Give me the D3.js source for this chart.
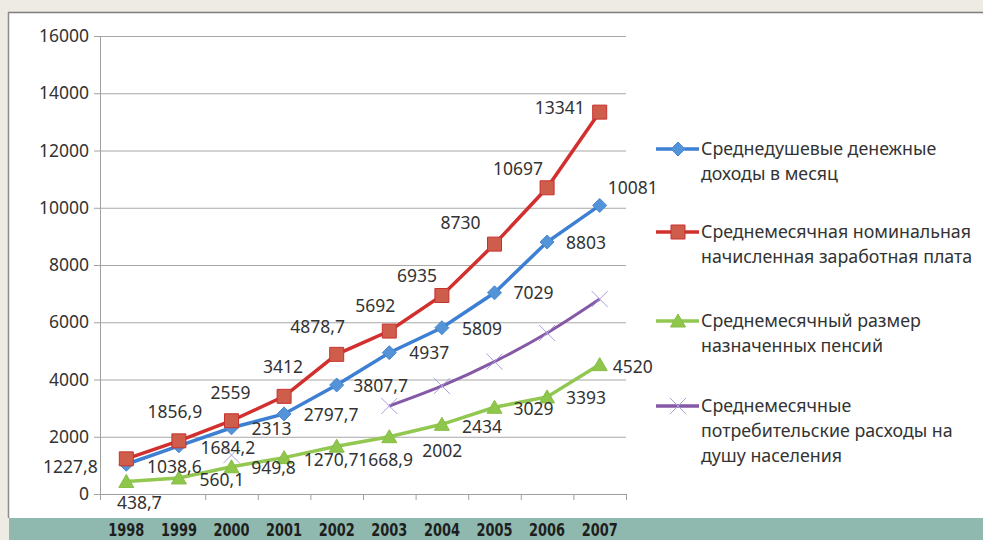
<!DOCTYPE html>
<html>
<head>
<meta charset="utf-8">
<script src="https://cdn.jsdelivr.net/npm/d3@7"></script>
<style>
  body { margin: 0; background: #eeeae4; }
  svg { display: block; }
</style>
</head>
<body>
<div id="container"></div>
<script>
// Chart data
var years = ["1998", "1999", "2000", "2001", "2002", "2003", "2004", "2005", "2006", "2007"];
var income = [1038.6, 1684.2, 2313, 2797.7, 3807.7, 4937, 5809, 7029, 8803, 10081];
var salary = [1227.8, 1856.9, 2559, 3412, 4878.7, 5692, 6935, 8730, 10697, 13341];
var pension = [438.7, 560.1, 949.8, 1270.7, 1668.9, 2002, 2434, 3029, 3393, 4520];
var spending = [null, null, 1360, null, null, 3075, 3775, 4625, 5625, 6810];
var yTicks = [0, 2000, 4000, 6000, 8000, 10000, 12000, 14000, 16000];

var legendIncome = ["Среднедушевые денежные", "доходы в месяц"];
var legendSalary = ["Среднемесячная номинальная", "начисленная заработная плата"];
var legendPension = ["Среднемесячный размер", "назначенных пенсий"];
var legendSpending = ["Среднемесячные", "потребительские расходы на", "душу населения"];

// Label placement (offset of label centre from its point)
var salaryLabelPos = [[-56, 8], [-4, -29], [-1, -28], [-1, -29], [-19, -27], [-14, -25], [-25, -20], [-34, -21], [-29, -19], [-40, -4]];
var incomeLabelPos = [[48, 3], [49, 2], [40, 1], [47, 1], [44, 1], [40, 0], [40, 1], [39, 0], [39, 1], [33, -18]];
var pensionLabelPos = [[13, 21], [43, 2], [42, 1], [47, 2], [49, 14], [53, 14], [40, 3], [39, 2], [39, 1], [33, 2]];

var width = 983;
var height = 540;
var font = "'Noto Sans', 'Open Sans', sans-serif";

var svg = d3.select("#container")
  .append("svg")
  .attr("width", width)
  .attr("height", height);

// background panel
svg.append("rect").attr("x", 0).attr("y", 0).attr("width", width).attr("height", height).attr("fill", "#eeeae4");
svg.append("rect").attr("x", 8).attr("y", 13).attr("width", width - 8).attr("height", 505).attr("fill", "#ffffff");
svg.append("line").attr("x1", 8).attr("x2", width).attr("y1", 12.5).attr("y2", 12.5).attr("stroke", "#7d7d7d").attr("stroke-width", 1.5);
svg.append("line").attr("x1", 8.5).attr("x2", 8.5).attr("y1", 12).attr("y2", 518).attr("stroke", "#8c8c8c").attr("stroke-width", 1.5);
svg.append("rect").attr("x", 9).attr("y", 518).attr("width", width - 9).attr("height", 22).attr("fill", "#8fb9ae");

// scales
var x = d3.scaleBand().domain(years).range([100, 626]);
var xEdge = d3.scaleLinear().domain([0, years.length]).range([100, 626]);
var y = d3.scaleLinear().domain([0, 16000]).range([494, 36]);
function cx(i) { return x(years[i]) + x.bandwidth() / 2; }

// grid lines
svg.append("g")
  .attr("transform", "translate(100,0)")
  .call(d3.axisLeft(y).tickValues(yTicks).tickSize(-526).tickFormat(""))
  .call(function(g) {
    g.select(".domain").remove();
    g.selectAll("line").attr("stroke", "#a8a8a8");
  });

// y axis
svg.append("g")
  .attr("transform", "translate(100,0)")
  .call(d3.axisLeft(y).tickValues(yTicks).tickSize(6).tickPadding(5).tickFormat(d3.format("d")))
  .call(function(g) {
    g.select(".domain").attr("stroke", "#a0a0a0");
    g.selectAll("line").attr("stroke", "#a0a0a0");
    g.selectAll("text").attr("font-family", font).attr("font-size", 17.5).attr("fill", "#333");
  });

// x axis (ticks at category edges)
svg.append("g")
  .attr("transform", "translate(0,494)")
  .call(d3.axisBottom(xEdge).tickValues(d3.range(years.length + 1)).tickSize(6).tickFormat(""))
  .call(function(g) {
    g.select(".domain").attr("stroke", "#a0a0a0");
    g.selectAll("line").attr("stroke", "#a0a0a0");
  });

// year labels in the band (condensed bold)
svg.append("g").selectAll("text")
  .data(years)
  .enter()
  .append("text")
  .attr("x", function(d, i) { return cx(i) - 18; })
  .attr("y", 535.5)
  .attr("textLength", 36)
  .attr("lengthAdjust", "spacingAndGlyphs")
  .attr("font-family", "'DejaVu Sans', 'Liberation Sans', sans-serif")
  .attr("font-weight", "bold")
  .attr("font-size", 18)
  .attr("fill", "#1e1e1e")
  .text(function(d) { return d; });

// lines
var line = d3.line()
  .defined(function(d) { return d != null; })
  .x(function(d, i) { return cx(i); })
  .y(function(d) { return y(d); });

var colBlue = "#3d7fd3";
var colRed = "#d1302f";
var colGreen = "#92c851";
var colPurple = "#8559a6";

svg.append("path").datum(spending).attr("d", line.curve(d3.curveCatmullRom))
  .attr("fill", "none").attr("stroke", colPurple).attr("stroke-width", 3);
line.curve(d3.curveLinear);
svg.append("path").datum(pension).attr("d", line).attr("fill", "none").attr("stroke", colGreen).attr("stroke-width", 3.5);
svg.append("path").datum(income).attr("d", line).attr("fill", "none").attr("stroke", colBlue).attr("stroke-width", 3.5);
svg.append("path").datum(salary).attr("d", line).attr("fill", "none").attr("stroke", colRed).attr("stroke-width", 3.5);

// markers
var diamond = "M0,-7L7,0L0,7L-7,0Z";
var square = "M-7,-7H7V7H-7Z";
var triangle = "M0,-7L7.5,6L-7.5,6Z";
var cross = "M-8,-8L8,8M-8,8L8,-8";

function markers(data, path, fill, stroke, sw) {
  svg.append("g").selectAll("path")
    .data(data.map(function(d, i) { return { v: d, i: i }; }).filter(function(d) { return d.v != null; }))
    .enter()
    .append("path")
    .attr("d", path)
    .attr("transform", function(d) { return "translate(" + cx(d.i) + "," + y(d.v) + ")"; })
    .attr("fill", fill)
    .attr("stroke", stroke)
    .attr("stroke-width", sw);
}
markers(spending, cross, "none", "#a89fdc", 1);
markers(pension, triangle, "#8fc64c", "#86bd45", 1);
markers(income, diamond, "#5393d8", "#4a88cf", 1);
markers(salary, square, "#cf5d4c", "#c8322e", 1);

// data labels
function fmt(v) { return String(v).replace(".", ","); }
function labels(data, pos) {
  svg.append("g").selectAll("text")
    .data(data)
    .enter()
    .append("text")
    .attr("x", function(d, i) { return cx(i) + pos[i][0]; })
    .attr("y", function(d, i) { return y(d) + pos[i][1]; })
    .attr("dy", "0.35em")
    .attr("text-anchor", "middle")
    .attr("font-family", font)
    .attr("font-size", 17.5)
    .attr("fill", "#333")
    .text(fmt);
}
labels(salary, salaryLabelPos);
labels(income, incomeLabelPos);
labels(pension, pensionLabelPos);

// legend
var legend = [
  { lines: legendIncome, y: 149, color: colBlue, path: diamond, fill: "#5393d8", stroke: "#4a88cf" },
  { lines: legendSalary, y: 232, color: colRed, path: square, fill: "#cf5d4c", stroke: "#c8322e" },
  { lines: legendPension, y: 321, color: colGreen, path: triangle, fill: "#8fc64c", stroke: "#86bd45" },
  { lines: legendSpending, y: 406, color: colPurple, path: cross, fill: "none", stroke: "#a89fdc" }
];
var lg = svg.append("g").selectAll("g").data(legend).enter().append("g")
  .attr("transform", function(d) { return "translate(0," + d.y + ")"; });
lg.append("line").attr("x1", 656).attr("x2", 699).attr("stroke", function(d) { return d.color; }).attr("stroke-width", 3.5);
lg.append("path").attr("d", function(d) { return d.path; })
  .attr("transform", "translate(678,0)")
  .attr("fill", function(d) { return d.fill; })
  .attr("stroke", function(d) { return d.stroke; })
  .attr("stroke-width", 1);
lg.append("text")
  .attr("font-family", font)
  .attr("font-size", 17.8)
  .attr("fill", "#333")
  .selectAll("tspan")
  .data(function(d) { return d.lines; })
  .enter()
  .append("tspan")
  .attr("x", 701)
  .attr("y", function(d, i) { return i * 25; })
  .attr("dy", "0.35em")
  .text(function(d) { return d; });
</script>
</body>
</html>
